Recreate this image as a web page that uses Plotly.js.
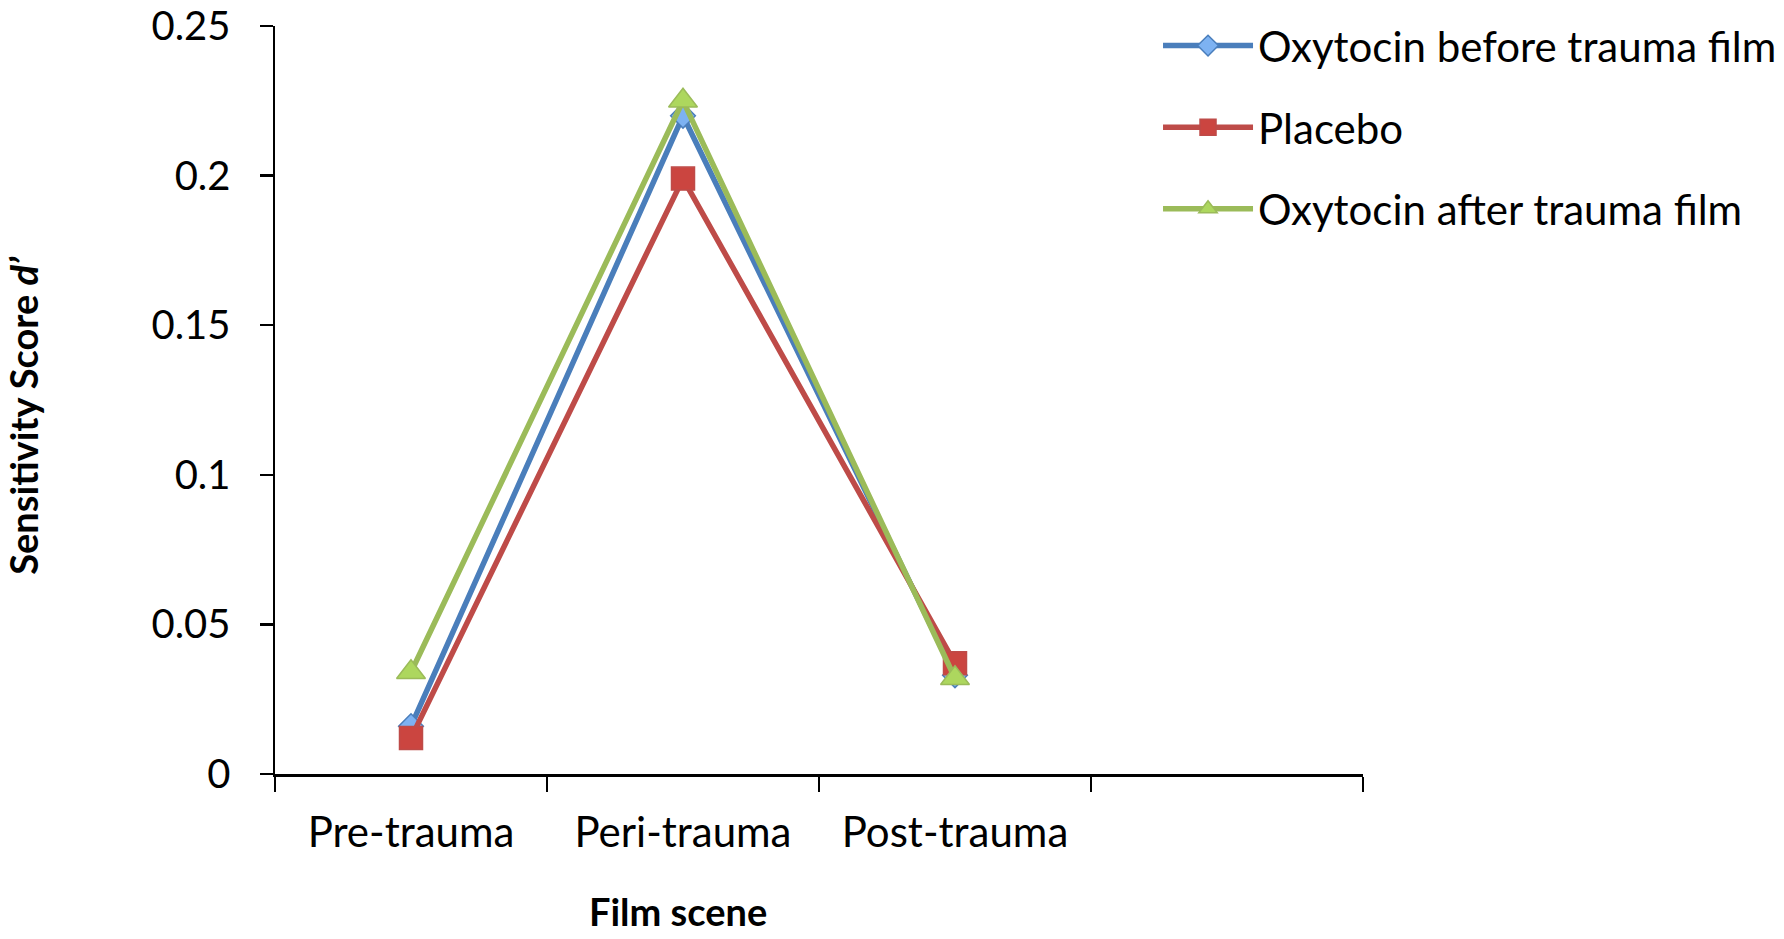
<!DOCTYPE html>
<html>
<head>
<meta charset="utf-8">
<script src="https://cdn.plot.ly/plotly-3.0.1.min.js"></script>
<style>
  html, body { margin: 0; padding: 0; background: #fff; }
  #chart { width: 1784px; height: 939px; }
</style>
</head>
<body>
<div id="chart"></div>
<script>
// film scenes (last slot is an empty category, as in the original chart)
var scenes = ['Pre-trauma', 'Peri-trauma', 'Post-trauma'];
var categorySlots = ['Pre-trauma', 'Peri-trauma', 'Post-trauma', ' '];

// sensitivity score d' per group
var oxytocinBefore = [0.016, 0.220, 0.033];
var placebo = [0.012, 0.199, 0.037];
var oxytocinAfter = [0.034, 0.225, 0.032];

var seriesNames = ['Oxytocin before trauma film', 'Placebo', 'Oxytocin after trauma film'];
var yTicks = [0, 0.05, 0.1, 0.15, 0.2, 0.25];

var FONT = 'Lato, "Open Sans", sans-serif';

function series(y, name, lineColor, symbol, size, fill, group) {
    return {
        x: scenes,
        y: y,
        name: name,
        type: 'scatter',
        mode: 'lines+markers',
        legendgroup: group,
        line: {color: lineColor, width: 5.5},
        marker: {symbol: symbol, size: size, color: fill, line: {color: lineColor, width: 1.5}}
    };
}

var data = [
    series(oxytocinBefore, seriesNames[0], '#4A7EBB', 'diamond', 19, '#7DB2F2', 'a'),
    series(placebo, seriesNames[1], '#BE4B48', 'square', 23, '#CB4540', 'b'),
    series(oxytocinAfter, seriesNames[2], '#9BBB59', 'triangle-up', 25, '#ADD75E', 'c')
];

var layout = {
    width: 1784,
    height: 939,
    margin: {l: 275, r: 421, t: 26, b: 165, autoexpand: false},
    paper_bgcolor: '#fff',
    plot_bgcolor: '#fff',
    font: {family: FONT, size: 42, color: '#000'},
    showlegend: true,
    legend: {
        x: 0.8116, xanchor: 'left',
        y: 1.019, yanchor: 'top',
        traceorder: 'grouped',
        tracegroupgap: 24,
        itemwidth: 90,
        font: {family: FONT, size: 42, color: '#000'},
        bgcolor: 'rgba(0,0,0,0)'
    },
    xaxis: {
        type: 'category',
        categoryorder: 'array',
        categoryarray: categorySlots,
        range: [-0.5, 3.5],
        automargin: false,
        tickson: 'boundaries',
        ticks: 'outside',
        ticklen: 15,
        tickwidth: 2.5,
        tickcolor: '#000',
        ticklabelstandoff: 20,
        showline: true,
        linecolor: '#000',
        linewidth: 2.5,
        showgrid: false,
        zeroline: false,
        tickfont: {family: FONT, size: 42, color: '#000'}
    },
    yaxis: {
        range: [0, 0.25],
        tickvals: yTicks,
        automargin: false,
        ticklabeloverflow: 'allow',
        ticks: 'outside',
        ticklen: 13,
        tickwidth: 2.5,
        tickcolor: '#000',
        ticklabelstandoff: 21,
        showline: true,
        linecolor: '#000',
        linewidth: 2.5,
        showgrid: false,
        zeroline: false,
        tickfont: {family: FONT, size: 40, color: '#000'}
    },
    annotations: [
        {
            text: '<b>Film scene</b>',
            xref: 'paper', yref: 'paper',
            x: 0.370, y: -0.217,
            xanchor: 'center', yanchor: 'bottom',
            showarrow: false,
            font: {family: FONT, size: 38, color: '#000'}
        },
        {
            text: '<b>Sensitivity Score <i>d’</i></b>',
            xref: 'paper', yref: 'paper',
            x: -0.2316, y: 0.479,
            xanchor: 'center', yanchor: 'middle',
            textangle: -90,
            showarrow: false,
            font: {family: FONT, size: 38, color: '#000'}
        }
    ]
};

Plotly.newPlot('chart', data, layout, {displayModeBar: false, staticPlot: true});
</script>
</body>
</html>
